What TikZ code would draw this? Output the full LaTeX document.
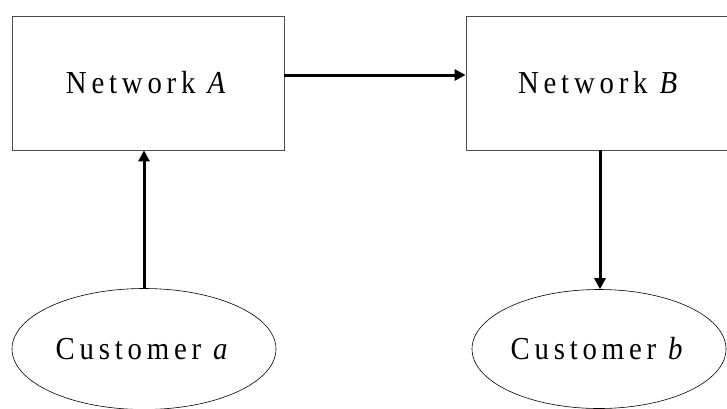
\documentclass[tikz,border=0pt]{standalone}
\usepackage{fontspec}
\setmainfont[LetterSpace=15,FakeStretch=0.9]{Liberation Serif}
\usepackage{tikz}
\usetikzlibrary{shapes}
\usetikzlibrary{arrows.meta}
\tikzset{
	textnode/.style = {
		align=center,
		inner sep=0pt,
		text centered,
		font=\fontsize{32}{38}\selectfont
	},
	node_net/.style = {
		textnode,
		rectangle,
		draw=black!70,
		thick,
		minimum height=134pt
	},
	node_cust/.style = {
		textnode,
		ellipse,
		draw=black,
		semithick
	},
	link/.style = {
		->,
		line width=3pt
	},
}
\begin{document}
\begin{tikzpicture}[x=1pt,y=-1pt,>={Triangle[length=11pt,width=11pt]}]
\useasboundingbox (0,0) rectangle (727,408);
\node [node_net, minimum width=272pt] (netA) at (148,83) {Network \textit{A}};
\node [node_net, minimum width=268pt] (netB) at (600,83) {Network \textit{B}};
\node [node_cust, minimum width=264pt, minimum height=121pt] (custA) at (144,349) {Customer \textit{a}};
\node [node_cust, minimum width=254pt, minimum height=119pt] (custB) at (599,349) {Customer \textit{b}};
\draw [link] (custA.north) -- (custA.north |- netA.south);
\draw [link] ([yshift=8pt]netA.east) -- ([yshift=8pt]netB.west);
\draw [link] (netB.south) -- (netB.south |- custB.north);
\end{tikzpicture}
\end{document}
